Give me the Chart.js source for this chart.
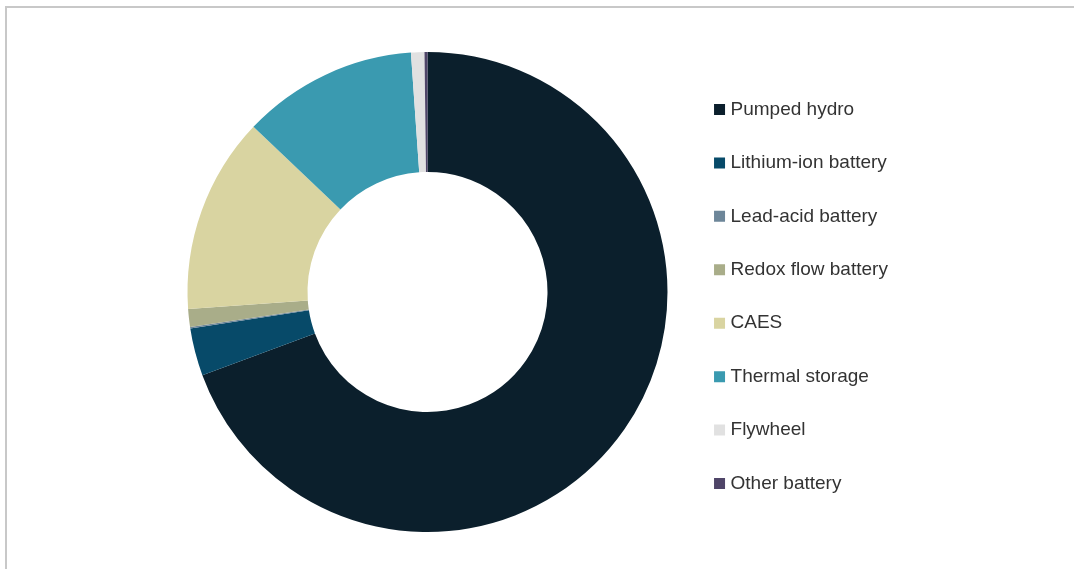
<!DOCTYPE html>
<html>
<head>
<meta charset="utf-8">
<script src="https://cdn.jsdelivr.net/npm/chart.js@4"></script>
<style>
  html, body { margin: 0; padding: 0; background: #ffffff; }
  #wrap { position: relative; width: 1074px; height: 569px; overflow: hidden; }
  #frame { position: absolute; left: 5px; top: 6px; right: -10px; bottom: -10px;
           border-top: 2px solid #c8c8c8; border-left: 2px solid #c8c8c8; }
  #chart { position: absolute; left: 0; top: 0; }
</style>
</head>
<body>
<div id="wrap">
  <div id="frame"></div>
  <canvas id="chart" width="1074" height="569"></canvas>
</div>
<script>
// Share of installed energy storage capacity by technology (%)
const categories = [
  'Pumped hydro',
  'Lithium-ion battery',
  'Lead-acid battery',
  'Redox flow battery',
  'CAES',
  'Thermal storage',
  'Flywheel',
  'Other battery'
];
const shares = [69.3, 3.2, 0.1, 1.2, 13.2, 11.8, 0.9, 0.2];
const sliceColors = [
  '#0b1f2c', '#074a69', '#6d8699', '#a9ad89',
  '#d9d4a1', '#3a9ab0', '#e1e1e1', '#4f4568'
];

// Legend geometry: the legend column starts at legendLeft; its width is
// measured so the doughnut sits centred in the space to its left.
const FONT_SIZE = 19;
const FONT_FAMILY = '"Liberation Sans", Arial, sans-serif';
const ITEM_PAD = 34.44;
const BOX = 3;
const legendLeft = 682.6;
const measureCtx = document.createElement('canvas').getContext('2d');
measureCtx.font = FONT_SIZE + 'px ' + FONT_FAMILY;
const widest = Math.max(...categories.map(t => measureCtx.measureText(t).width));
const legendWidth = ITEM_PAD + BOX + FONT_SIZE / 2 + widest + 10;
const padRight = 1074 - legendLeft - legendWidth - 1;

new Chart(document.getElementById('chart'), {
  type: 'doughnut',
  data: {
    labels: categories,
    datasets: [{
      data: shares,
      backgroundColor: sliceColors,
      borderWidth: 0,
      hoverOffset: 0
    }]
  },
  options: {
    responsive: false,
    animation: false,
    cutout: '50%',
    layout: { padding: { top: 52, bottom: 37, left: 171.4, right: padRight } },
    plugins: {
      tooltip: { enabled: false },
      legend: {
        position: 'right',
        align: 'center',
        title: { display: true, text: '', padding: 0, font: { size: 9, lineHeight: 1 } },
        labels: {
          boxWidth: BOX,
          boxHeight: BOX,
          padding: ITEM_PAD,
          color: '#333333',
          font: { family: FONT_FAMILY, size: FONT_SIZE },
          generateLabels(chart) {
            const ds = chart.data.datasets[0];
            return chart.data.labels.map((label, i) => ({
              text: label,
              fillStyle: ds.backgroundColor[i],
              strokeStyle: ds.backgroundColor[i],
              fontColor: '#333333',
              lineWidth: 8,
              hidden: false,
              index: i
            }));
          }
        }
      }
    }
  }
});
</script>
</body>
</html>
